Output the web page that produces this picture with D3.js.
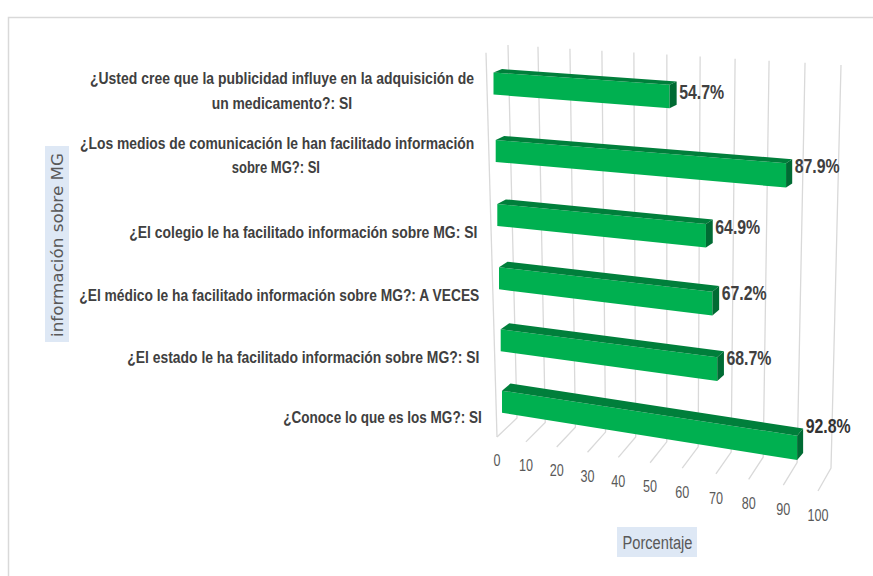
<!DOCTYPE html>
<html><head><meta charset="utf-8">
<script src="https://cdnjs.cloudflare.com/ajax/libs/d3/7.8.5/d3.min.js"></script>
<style>html,body{margin:0;padding:0;background:#fff}svg{display:block}</style>
</head><body><svg id="c" width="873" height="576"></svg>
<script>
// ---- data ----
const categories = [
  ["¿Usted cree que la publicidad influye en la adquisición de", "un medicamento?: SI"],
  ["¿Los medios de comunicación le han facilitado información", "sobre MG?: SI"],
  ["¿El colegio le ha facilitado información sobre MG: SI"],
  ["¿El médico le ha facilitado información sobre MG?: A VECES"],
  ["¿El estado le ha facilitado información sobre MG?: SI"],
  ["¿Conoce lo que es los MG?: SI"]
];
const values = [54.7, 87.9, 64.9, 67.2, 68.7, 92.8];
const tickValues = [0,10,20,30,40,50,60,70,80,90,100];
const xTitle = "Porcentaje";
const yTitle = "información sobre MG";

// ---- perspective frame (layout) ----
const depthRatio = d3.scaleLinear().domain(tickValues)
  .range([0,.09,.186,.282,.378,.477,.577,.682,.784,.892,1]);
const rows = d3.range(categories.length);
const barLeftX  = d3.scaleLinear().domain(rows).range([493.5,495.7,497.3,499,500.7,502]);
const barWidth  = d3.scaleLinear().domain(rows).range([336,334,332,327,324,320]);
const barTopY   = d3.scaleLinear().domain(rows).range([72.5,140,204,267.3,329.3,390.7]);
const barDrop   = d3.scaleLinear().domain(rows).range([23.6,26.8,31.8,37.4,41.9,48.8]);
const barDepthY = d3.scaleLinear().domain(rows).range([3.4,4,4.6,5.6,6,7.2]);
const barH      = d3.scaleLinear().domain([0,1]).range([22,24.6]);
const barDepthX = d3.scaleLinear().domain([0,1]).range([8.5,5.8]);
const wallTopX  = d3.scaleLinear().domain([0,1]).range([508,841]);
const wallTopY  = d3.scaleLinear().domain([0,1]).range([45,65]);
const wallBotX  = d3.scaleLinear().domain([0,1]).range([517,831]);
const wallBotY  = d3.scaleLinear().domain([0,1]).range([418,468]);
const floorX    = d3.scaleLinear().domain([0,1]).range([497,818]);
const floorY    = d3.scaleLinear().domain([0,1]).range([437,491]);
const tickY     = d3.scaleLinear().domain([0,1]).range([460.7,515.7]);
const labelDy   = [7,3,3,1,1,-10];
const catY      = [[78,103.3],[143,167],[231.7],[295],[356.7],[417.3]];
const catBox    = [[[90,384],[211.7,140.3]],[[80,394.3],[231.7,88.3]],[[129.3,348]],[[79.3,400]],[[127.3,352]],[[283.3,198.4]]];

const SANS = '"Liberation Sans",sans-serif';
const svg = d3.select("#c");
const line = d3.line();

// chart frame: top and left edges only are inside the picture
svg.append("path").attr("d","M8.5,576V17.5H873").attr("fill","none")
  .attr("stroke","#d9d9d9").attr("stroke-width",1.5);

// gridlines
const grid = svg.append("g").attr("fill","none").attr("stroke","#d9d9d9").attr("stroke-width",1.3);
tickValues.forEach(v=>{
  const u = depthRatio(v);
  grid.append("path").attr("d",line([[wallTopX(u),wallTopY(u)],[wallBotX(u),wallBotY(u)],[floorX(u),floorY(u)]]));
});
grid.append("path").attr("d",line([[486,52.7],[floorX(0),floorY(0)]]));

// tick labels
svg.append("g").selectAll("text").data(tickValues).join("text")
  .attr("x",v=>floorX(depthRatio(v))-String(v).length*3.5).attr("y",v=>tickY(depthRatio(v)))
  .attr("dominant-baseline","central")
  .attr("font-family",SANS).attr("font-size",16).attr("fill","#595959")
  .attr("textLength",v=>String(v).length*7).attr("lengthAdjust","spacingAndGlyphs").text(d=>d);

// bars
const pt = (i,v,h,d)=>{
  const u = depthRatio(v);
  const x = barLeftX(i)+barWidth(i)*u;
  const y = barTopY(i)+barDrop(i)*u;
  return [x + d*barDepthX(u), y + h*barH(u) - d*barDepthY(i)];
};
const bars = svg.append("g").selectAll("g").data(values).join("g");
bars.each(function(v,i){
  const g = d3.select(this);
  g.append("path").attr("fill","#00b050").attr("d",line([pt(i,0,0,0),pt(i,v,0,0),pt(i,v,1,0),pt(i,0,1,0)])+"Z");
  g.append("path").attr("fill","#007f3b").attr("d",line([pt(i,0,0,0),pt(i,0,0,1),pt(i,v,0,1),pt(i,v,0,0)])+"Z");
  g.append("path").attr("fill","#006b33").attr("d",line([pt(i,v,0,0),pt(i,v,0,1),pt(i,v,1,1),pt(i,v,1,0)])+"Z");
  const p = pt(i,v,0,1), f = pt(i,v,0,0);
  g.append("text").attr("x",p[0]+2.5).attr("y",f[1]+labelDy[i])
    .attr("dominant-baseline","central").attr("font-family",SANS).attr("font-weight","bold")
    .attr("font-size",19.5).attr("fill",i===5?"#333333":"#404040")
    .attr("textLength",45).attr("lengthAdjust","spacingAndGlyphs").text(d3.format(".1f")(v)+"%");
});

// category labels
categories.forEach((lines,i)=>lines.forEach((t,j)=>{
  svg.append("text").attr("x",catBox[i][j][0]).attr("y",catY[i][j])
    .attr("dominant-baseline","central").attr("font-family",SANS).attr("font-weight","bold")
    .attr("font-size",16.5).attr("fill","#404040")
    .attr("textLength",catBox[i][j][1]).attr("lengthAdjust","spacingAndGlyphs").text(t);
}));

// axis titles
svg.append("rect").attr("x",45).attr("y",146).attr("width",24).attr("height",196).attr("fill","#dee8f5");
svg.append("text").attr("transform","translate(58,245) rotate(-90)")
  .attr("text-anchor","middle").attr("dominant-baseline","central")
  .attr("font-family","'DejaVu Sans',sans-serif").attr("font-size",15.5).attr("fill","#595959")
  .attr("textLength",184).attr("lengthAdjust","spacingAndGlyphs").text(yTitle);
svg.append("rect").attr("x",617).attr("y",527).attr("width",80).attr("height",30).attr("fill","#dee8f5");
svg.append("text").attr("x",622.5).attr("y",542.5)
  .attr("dominant-baseline","central")
  .attr("font-family",SANS).attr("font-size",18).attr("fill","#595959")
  .attr("textLength",70).attr("lengthAdjust","spacingAndGlyphs").text(xTitle);
</script></body></html>
